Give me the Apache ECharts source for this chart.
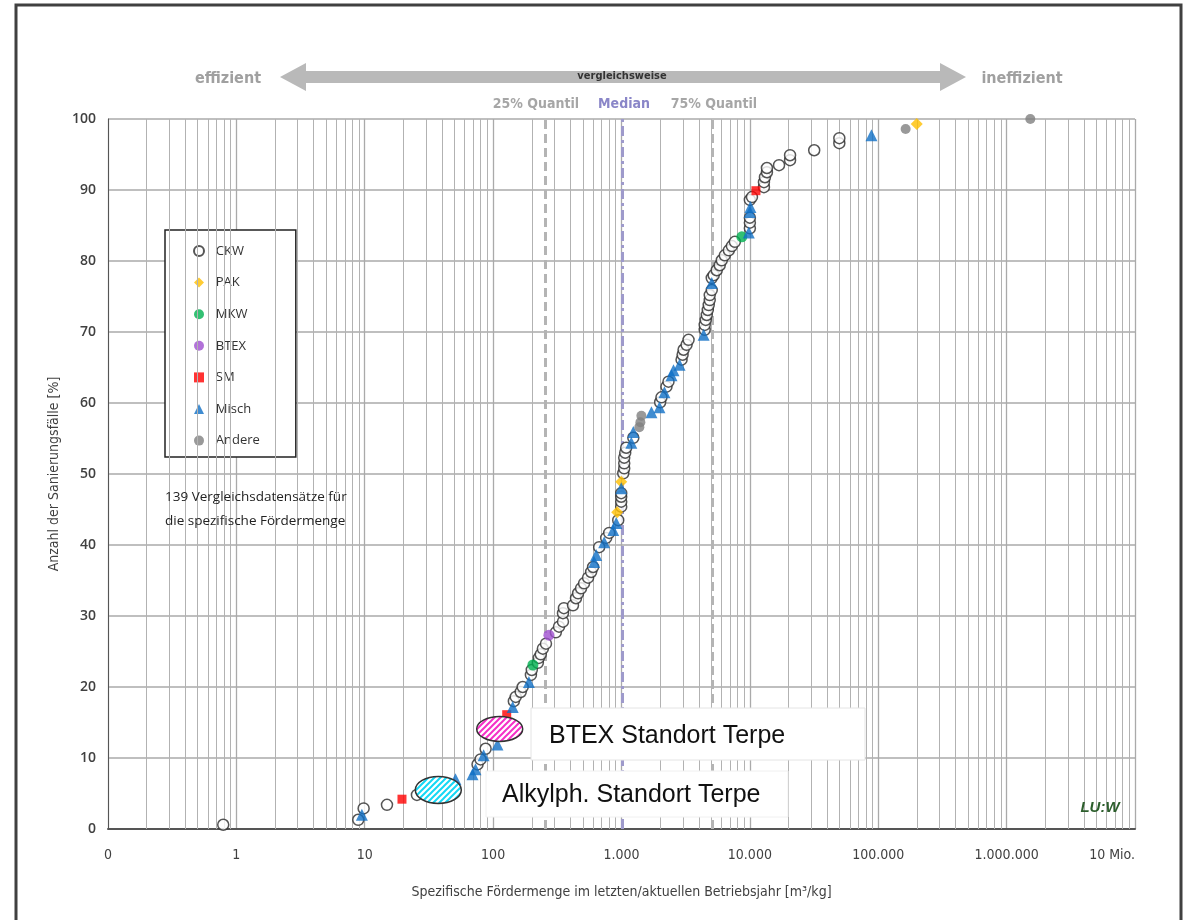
<!DOCTYPE html>
<html><head><meta charset="utf-8">
<script src="https://cdn.jsdelivr.net/npm/echarts@6/dist/echarts.min.js"></script>
<style>html,body{margin:0;padding:0;background:#fff}#c{width:1201px;height:920px}</style>
</head><body><div id="c"></div>
<script>
// ---- data ----
const tickValues = [0.1, 1, 10, 100, 1000, 10000, 100000, 1000000, 10000000];
const tickLabels = ['0', '1', '10', '100', '1.000', '10.000', '100.000', '1.000.000', '10 Mio.'];
const quantileValues = [253, 1014, 5047];
const quantileNames = ['25% Quantil', 'Median', '75% Quantil'];

const ckw = [[0.79,0.6],[8.9,1.3],[9.8,2.9],[14.9,3.4],[25.5,4.8],[75.6,9.1],[79.8,9.8],[87.4,11.3],
 [145,18.0],[150,18.6],[164,19.3],[170,20.0],[197,21.7],[200,22.4],[223,23.4],[227,24.1],[235,24.6],[244,25.4],[258,26.1],
 [308,27.7],[326,28.5],[350,29.2],[350,30.4],[356,31.1],[419,31.5],[442,32.5],[459,33.2],[484,33.9],[511,34.6],[549,35.4],
 [580,36.2],[601,36.9],[670,39.7],[760,41.0],[802,41.7],[943,43.5],[995,45.4],[995,46.1],[995,46.8],[995,47.3],
 [1032,50.1],[1050,50.8],[1050,51.5],[1050,52.3],[1069,53.0],[1088,53.7],[1236,55.1],[2000,60.1],[2048,60.8],[2240,62.3],
 [2322,63.0],[2937,66.1],[2992,66.8],[3044,67.5],[3213,68.2],[3329,68.9],[4448,70.3],[4448,71.0],[4529,71.7],[4614,72.4],
 [4700,73.1],[4780,73.8],[4866,74.5],[4866,75.2],[5047,75.9],[5047,77.6],[5226,78.0],[5518,78.7],[5822,79.4],[6040,80.1],
 [6376,80.8],[6855,81.5],[7240,82.1],[7640,82.7],[10000,84.6],[10000,85.4],[10000,86.1],[10000,88.6],[10380,89.0],
 [12870,90.4],[12870,91.1],[13100,91.8],[13580,92.5],[13580,93.1],[16870,93.5],[20560,94.2],[20560,94.9],[31700,95.6],
 [49750,96.6],[49750,97.3]];
const pak = [[926,44.6],[995,48.9],[199500,99.3]];
const mkw = [[204,23.1],[8657,83.4]];
const btex = [[272,27.3]];
const sm = [[19.5,4.2],[127.6,16.1],[11150,89.9]];
const misch = [[9.5,2.0],[50.9,7.0],[69.1,7.7],[72.9,8.4],[84.3,10.4],[108,11.9],[142,17.2],[190,20.7],
 [612,37.6],[635,38.6],[733,40.4],[862,42.1],[910,43.1],[995,48.0],[1192,54.4],[1236,55.9],[1711,58.7],[1976,59.4],
 [2161,61.5],[2451,63.9],[2541,64.6],[2833,65.4],[4364,69.6],[5047,76.9],[9816,84.0],[10000,86.9],[10100,87.6],[88500,97.7]];
const andere = [[1377,56.6],[1403,57.3],[1429,58.2],[163400,98.6],[1530000,100]];
const markAlkylph = [[37.4,5.5]];
const markBtex = [[112.5,14.1]];

// ---- helpers ----
const cond = "'Liberation Sans Narrow','DejaVu Sans Condensed','Open Sans',sans-serif";
function hatch(color) {
  const s = 6;
  const c = document.createElement('canvas');
  c.width = s; c.height = s;
  const g = c.getContext('2d');
  g.fillStyle = '#ffffff'; g.fillRect(0, 0, s, s);
  g.strokeStyle = color; g.lineWidth = 2;
  g.beginPath();
  g.moveTo(-1, s + 1); g.lineTo(s + 1, -1);
  g.moveTo(-1, 1); g.lineTo(1, -1);
  g.moveTo(s - 1, s + 1); g.lineTo(s + 1, s - 1);
  g.stroke();
  return { image: c, repeat: 'repeat' };
}
function ellipseSeries(name, data, color, rx, ry) {
  return {
    type: 'custom', name: name, data: data, z: 8, silent: true,
    encode: { x: 0, y: 1 },
    renderItem: (params, api) => {
      const p = api.coord([api.value(0), api.value(1)]);
      return { type: 'ellipse', shape: { cx: p[0], cy: p[1], rx: rx, ry: ry },
        style: { fill: hatch(color), stroke: '#333', lineWidth: 1.5 } };
    }
  };
}
const minorLines = [];
for (let e = -1; e < 7; e++) for (let m = 2; m <= 9; m++) minorLines.push({ xAxis: m * Math.pow(10, e) });

const chart = echarts.init(document.getElementById('c'), null, { renderer: 'canvas' });
const qStyles = [
  { color: '#b4b4b4', type: [9, 5], width: 3 },
  { color: '#9e9acb', type: [10, 4, 3, 4], width: 3 },
  { color: '#b4b4b4', type: [9, 5], width: 3 }
];
const option = {
  animation: false,
  backgroundColor: '#ffffff',
  grid: { left: 108, right: 66, top: 119, bottom: 91, containLabel: false },
  xAxis: {
    type: 'log', logBase: 10, min: 0.1, max: 10000000,
    name: 'Spezifische Fördermenge im letzten/aktuellen Betriebsjahr [m³/kg]',
    nameLocation: 'middle', nameGap: 56,
    nameTextStyle: { fontFamily: cond, fontSize: 14, color: '#404040' },
    axisLine: { show: true, lineStyle: { color: '#555', width: 2 } },
    axisTick: { show: false },
    axisLabel: {
      margin: 19, fontFamily: cond, fontSize: 14, color: '#404040', alignMaxLabel: 'right',
      formatter: v => { const i = Math.round(Math.log10(v)) + 1; return tickLabels[i] !== undefined ? tickLabels[i] : ''; }
    },
    splitLine: { show: true, lineStyle: { color: '#aaaaaa', width: 1.3 } }
  },
  yAxis: {
    type: 'value', min: 0, max: 100, interval: 10,
    name: 'Anzahl der Sanierungsfälle [%]', nameLocation: 'middle', nameGap: 45,
    nameTextStyle: { fontFamily: cond, fontSize: 14, color: '#404040' },
    axisLine: { show: true, lineStyle: { color: '#555', width: 1 } },
    axisTick: { show: false },
    axisLabel: { margin: 12, fontFamily: "'Open Sans',sans-serif", fontWeight: 600, fontSize: 14, color: '#404040' },
    splitLine: { show: true, lineStyle: { color: '#aaaaaa', width: 1.5 } }
  },
  legend: {
    orient: 'vertical', left: 165, top: 230,
    padding: [14.5, 36, 10, 28], itemWidth: 10, itemHeight: 10, itemGap: 18.6,
    backgroundColor: '#ffffff', borderColor: '#222', borderWidth: 1.5,
    formatter: n => '  ' + n,
    textStyle: { fontFamily: "'Open Sans',sans-serif", fontSize: 13, color: '#333' },
    data: ['CKW', 'PAK', 'MKW', 'BTEX', 'SM', 'Misch', 'Andere']
  },
  series: [
    { type: 'scatter', name: 'grid', data: [], silent: true,
      markLine: { silent: true, symbol: 'none', label: { show: false }, animation: false,
        lineStyle: { color: '#b2b2b2', width: 1, type: 'solid' }, data: minorLines } },
    { type: 'scatter', name: 'quant', data: [], silent: true, z: 3,
      markLine: { silent: true, symbol: 'none', label: { show: false }, animation: false,
        data: quantileValues.map((v, i) => ({ xAxis: v, lineStyle: qStyles[i] })) } },
    { type: 'scatter', name: 'CKW', data: ckw, symbol: 'circle', symbolSize: 11, z: 5,
      itemStyle: { color: '#ffffff', borderColor: '#2a2a2a', borderWidth: 1.5 } },
    { type: 'scatter', name: 'PAK', data: pak, symbol: 'diamond', symbolSize: 12, z: 6, itemStyle: { color: '#ffbf00' } },
    { type: 'scatter', name: 'MKW', data: mkw, symbol: 'circle', symbolSize: 11, z: 6, itemStyle: { color: '#00b050' } },
    { type: 'scatter', name: 'BTEX', data: btex, symbol: 'circle', symbolSize: 11, z: 6, itemStyle: { color: '#9f4fd0' } },
    { type: 'scatter', name: 'SM', data: sm, symbol: 'rect', symbolSize: 9, z: 6, itemStyle: { color: '#ff0000' } },
    { type: 'scatter', name: 'Misch', data: misch, symbol: 'triangle', symbolSize: 12, z: 6, itemStyle: { color: '#0f6fc6' } },
    { type: 'scatter', name: 'Andere', data: andere, symbol: 'circle', symbolSize: 10, z: 6, itemStyle: { color: '#808080' } },
    ellipseSeries('annotA', markAlkylph, '#14d8f5', 23, 13.5),
    ellipseSeries('annotB', markBtex, '#f530c8', 23, 12.5)
  ],
  graphic: [
    { type: 'polyline', z: 100, silent: true, shape: { points: [[16, 922], [16, 5], [1181, 5], [1181, 922]] },
      style: { stroke: '#404040', lineWidth: 3, fill: null } },
    { type: 'polygon', z: 100, silent: true,
      shape: { points: [[280, 77], [306, 63], [306, 71], [940, 71], [940, 63], [966, 77], [940, 91], [940, 83], [306, 83], [306, 91]] },
      style: { fill: '#b9b9b9' } },
    { type: 'text', z: 101, x: 622, y: 76, style: { text: 'vergleichsweise', fill: '#333', font: 'bold 11px ' + cond, align: 'center', verticalAlign: 'middle' } },
    { type: 'text', z: 101, x: 228, y: 79, style: { text: 'effizient', fill: '#a0a0a0', font: 'bold 16px ' + cond, align: 'center', verticalAlign: 'middle' } },
    { type: 'text', z: 101, x: 1022, y: 79, style: { text: 'ineffizient', fill: '#a0a0a0', font: 'bold 16px ' + cond, align: 'center', verticalAlign: 'middle' } },
    { type: 'text', z: 101, x: 536, y: 104, style: { text: quantileNames[0], fill: '#a6a6a6', font: 'bold 14px ' + cond, align: 'center', verticalAlign: 'middle' } },
    { type: 'text', z: 101, x: 624, y: 104, style: { text: quantileNames[1], fill: '#8a86c8', font: 'bold 14px ' + cond, align: 'center', verticalAlign: 'middle' } },
    { type: 'text', z: 101, x: 714, y: 104, style: { text: quantileNames[2], fill: '#a6a6a6', font: 'bold 14px ' + cond, align: 'center', verticalAlign: 'middle' } },
    { type: 'text', z: 101, x: 165, y: 497, style: { text: '139 Vergleichsdatensätze für', fill: '#222', font: "13.5px 'Open Sans',sans-serif", verticalAlign: 'middle' } },
    { type: 'text', z: 101, x: 165, y: 521, style: { text: 'die spezifische Fördermenge', fill: '#222', font: "13.5px 'Open Sans',sans-serif", verticalAlign: 'middle' } },
    { type: 'rect', z: 100, silent: true, shape: { x: 531, y: 708, width: 334, height: 52 }, style: { fill: '#ffffff', stroke: '#e4e4e4', lineWidth: 1 } },
    { type: 'text', z: 101, x: 549, y: 736, style: { text: 'BTEX Standort Terpe', fill: '#111', font: "25px 'Liberation Sans',Arial,sans-serif", verticalAlign: 'middle' } },
    { type: 'rect', z: 100, silent: true, shape: { x: 486, y: 771, width: 302, height: 46 }, style: { fill: '#ffffff', stroke: '#f0f0f0', lineWidth: 1 } },
    { type: 'text', z: 101, x: 502, y: 795, style: { text: 'Alkylph. Standort Terpe', fill: '#111', font: "25px 'Liberation Sans',Arial,sans-serif", verticalAlign: 'middle' } },
    { type: 'text', z: 101, x: 1100, y: 808, style: { text: 'LU:W', fill: '#2c5e2c', font: "italic bold 15px 'Liberation Sans',Arial,sans-serif", align: 'center', verticalAlign: 'middle' } }
  ]
};
chart.setOption(option);
</script></body></html>
